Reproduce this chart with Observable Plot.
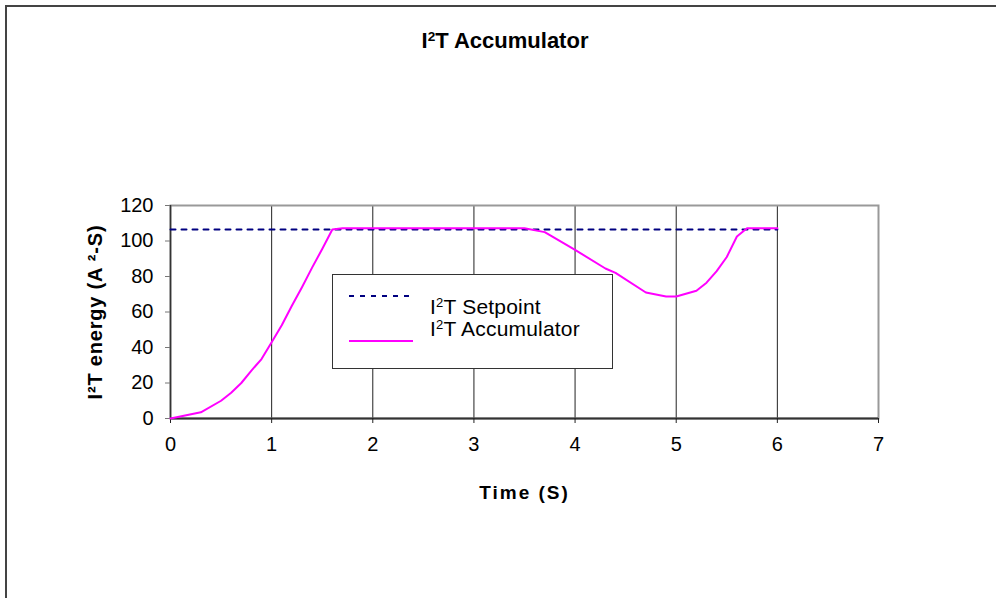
<!DOCTYPE html>
<html>
<head>
<meta charset="utf-8">
<script src="https://cdn.jsdelivr.net/npm/d3@7"></script>
<script src="https://cdn.jsdelivr.net/npm/@observablehq/plot@0.6"></script>
<style>
  html, body { margin: 0; padding: 0; background: #fff; overflow: hidden; }
  #wrap { position: relative; width: 996px; height: 598px; font-family: "Liberation Sans", Arial, sans-serif; }
  #border { position: absolute; left: 5px; top: 5px; width: 1200px; height: 800px; border-left: 2px solid #444; border-top: 2px solid #444; }
  #chart { position: absolute; left: 0; top: 0; }
  #title { position: absolute; left: 405px; width: 200px; top: 30px; text-align: center; font-size: 22px; font-weight: bold; line-height: 1; white-space: nowrap; }
  .sup { font-size: 0.62em; position: relative; top: -0.55em; }
  #legend { position: absolute; left: 332px; top: 274px; width: 279px; height: 93px; border: 1px solid #333; background: #fff; }
  .ltext { position: absolute; left: 97px; font-size: 21px; line-height: 1; white-space: nowrap; letter-spacing: 0.2px; }
  .lsample { position: absolute; left: 16px; }
</style>
</head>
<body>
<div id="wrap">
  <div id="border"></div>
  <div id="chart"></div>
  <div id="title">I<span class="sup">2</span>T Accumulator</div>
  <div id="legend">
    <svg class="lsample" style="top:16px" width="64" height="10"><line x1="0" y1="5" x2="64" y2="5" stroke="#000080" stroke-width="2" stroke-dasharray="5,6"/></svg>
    <svg class="lsample" style="top:61px" width="64" height="10"><line x1="0" y1="5" x2="64" y2="5" stroke="#ff00ff" stroke-width="2"/></svg>
    <div class="ltext" style="top:21px">I<span class="sup">2</span>T Setpoint</div>
    <div class="ltext" style="top:43px">I<span class="sup">2</span>T Accumulator</div>
  </div>
</div>
<script>
// ---- data ----
const times = [0, 0.3, 0.5, 0.6, 0.7, 0.8, 0.9, 1.0, 1.1, 1.2, 1.3, 1.4, 1.5, 1.6, 1.7,
               3.5, 3.7, 4.0, 4.3, 4.4, 4.7, 4.9, 5.0, 5.2, 5.3, 5.4, 5.5, 5.6, 5.7, 6.0];
const accumulator = [0, 3.5, 10, 14.5, 20, 27, 33.5, 43, 52.5, 63.5, 74, 85, 95.5, 106.5, 107.2,
                     107.2, 105, 95, 84.5, 82, 71, 68.7, 68.7, 72, 76.5, 83, 91, 102.5, 107.2, 107.2];
const setpointTimes = [0, 6];
const setpointValue = 106.5;
const xTicks = [0, 1, 2, 3, 4, 5, 6, 7];
const yTicks = [0, 20, 40, 60, 80, 100, 120];
const xLabel = "Time (S)";
const yLabel = "I²T energy (A ²-S)";

const accData = times.map((t, i) => ({t, v: accumulator[i]}));
const setData = setpointTimes.map(t => ({t, v: setpointValue}));

const chart = Plot.plot({
  width: 996,
  height: 598,
  marginLeft: 170,
  marginRight: 118,
  marginTop: 205,
  marginBottom: 180,
  style: {fontFamily: "'Liberation Sans', Arial, sans-serif", fontSize: "20px", color: "#000", background: "transparent", overflow: "visible"},
  x: {domain: [0, 7]},
  y: {domain: [0, 120]},
  marks: [
    Plot.ruleX(xTicks.filter(t => t > 0 && t < 7), {stroke: "#222", strokeWidth: 1}),
    Plot.frame({stroke: "#999", strokeWidth: 2}),
    Plot.ruleY([0], {stroke: "#333", strokeWidth: 2}),
    Plot.ruleX([0], {stroke: "#333", strokeWidth: 1.5}),
    Plot.axisX({ticks: xTicks, tickSize: 5, tickPadding: 13, label: null, stroke: "#222", fontSize: 20, tickFormat: d => String(d)}),
    Plot.axisY({ticks: yTicks, tickSize: 5, tickPadding: 12, label: null, stroke: "#777", fontSize: 20, tickFormat: d => String(d)}),
    Plot.line(setData, {x: "t", y: "v", stroke: "#000080", strokeWidth: 2, strokeDasharray: "5,6"}),
    Plot.line(accData, {x: "t", y: "v", stroke: "#ff00ff", strokeWidth: 2}),
    Plot.text([xLabel], {text: d => d, frameAnchor: "bottom", dy: 74, textAnchor: "middle", lineAnchor: "middle", fontWeight: "bold", fontSize: 19}),
    Plot.text([yLabel], {text: d => d, frameAnchor: "left", dx: -75, rotate: -90, textAnchor: "middle", lineAnchor: "middle", fontWeight: "bold", fontSize: 20})
  ]
});
document.getElementById("chart").appendChild(chart);
d3.select(chart).selectAll("text")
  .filter(function() { return this.textContent === xLabel; })
  .attr("letter-spacing", 2);
d3.select(chart).selectAll("text")
  .filter(function() { return this.textContent === yLabel; })
  .attr("letter-spacing", 0.8);
</script>
</body>
</html>
